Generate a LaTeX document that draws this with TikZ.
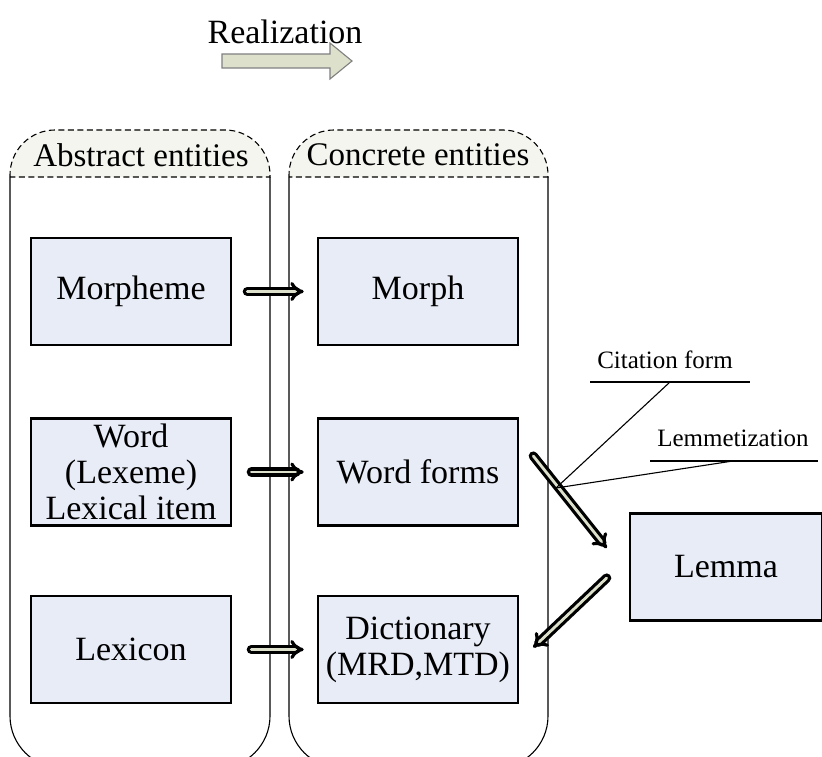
\documentclass[tikz,border=0pt]{standalone}
\usepackage{fontspec}
\setmainfont{Liberation Serif}
\usetikzlibrary{arrows.meta}
\definecolor{boxfill}{HTML}{E8ECF7}
\definecolor{headfill}{HTML}{F4F5EE}
\definecolor{arrowfill}{HTML}{DDE1CC}
\begin{document}
\begin{tikzpicture}[x=1pt,y=-1pt,line width=1.1pt,
    entity/.style={draw,line width=2.6pt,fill=boxfill,minimum width=200pt,minimum height=107pt,align=center,inner sep=0pt,font=\fontsize{34}{36}\selectfont},
    realize/.style={-{Implies[round,length=9pt,width=17pt]},double=arrowfill,double distance=2.8pt,line width=3.2pt,line cap=round},
    colhead/.style={dash pattern=on 6pt off 3.5pt,line width=1.1pt,fill=headfill},
    note/.style={font=\fontsize{25}{28}\selectfont,inner sep=0pt},
    heading/.style={font=\fontsize{33}{36}\selectfont,inner sep=0pt}]
        \useasboundingbox (0,0) rectangle (822,757);
        \clip (0,0) rectangle (822,757);
        %% Realization arrow
        \node[font=\fontsize{34}{36}\selectfont,inner sep=0pt] (realization) at (285,32) {Realization};
        \draw[draw=gray,fill=arrowfill] (222,54) -- (330,54) -- (330,43) -- (352,61) -- (330,79) -- (330,68) -- (222,68) -- cycle;
        %% column heads
        \draw[colhead] (10,177) [rounded corners=45pt] -- (10,130) -- (270,130) [sharp corners] -- (270,177) -- cycle;
        \draw[colhead] (289,177) [rounded corners=45pt] -- (289,130) -- (548,130) [sharp corners] -- (548,177) -- cycle;
        %% column bodies
        \draw[rounded corners=52pt] (10,177) -- (10,768) -- (270,768) -- (270,177);
        \draw[rounded corners=52pt] (289,177) -- (289,768) -- (548,768) -- (548,177);
        \node[heading] (abstract) at (141,155) {Abstract entities};
        \node[heading] (concrete) at (418,155) {Concrete entities};
        %% abstract entities
        \node[entity] (morpheme) at (131,291.5) {Morpheme};
        \node[entity] (word) at (131,472) {Word\\(Lexeme)\\Lexical item};
        \node[entity] (lexicon) at (131,649.5) {Lexicon};
        %% concrete entities
        \node[entity] (morph) at (418,291.5) {Morph};
        \node[entity] (wordforms) at (418,472) {Word forms};
        \node[entity] (dictionary) at (418,649.5) {Dictionary\\(MRD,MTD)};
        %% lemma
        \node[entity,minimum width=192pt] (lemma) at (726,567) {Lemma};
        %% realization arrows
        \draw[realize,shorten <=15pt,shorten >=13pt] (morpheme) -- (morph);
        \draw[realize,shorten <=19pt,shorten >=13pt] (word) -- (wordforms);
        \draw[realize,shorten <=19pt,shorten >=13pt] (lexicon) -- (dictionary);
        \draw[realize] ([shift={(14,-16)}]wordforms.east) -- ([shift={(-22,-19)}]lemma.west);
        \draw[realize] ([shift={(-22,11)}]lemma.west) -- ([shift={(14,-2)}]dictionary.east);
        %% notes
        \coordinate (fork) at (556,488);
        \node[note] (citation) at (665,360) {Citation form};
        \node[note] (lemmetization) at (733,438) {Lemmetization};
        \draw (590,382) -- (750,382);
        \draw (650,461) -- (818,461);
        \draw (670,382) -- (fork);
        \draw (733,461) -- (fork);
\end{tikzpicture}
\end{document}
